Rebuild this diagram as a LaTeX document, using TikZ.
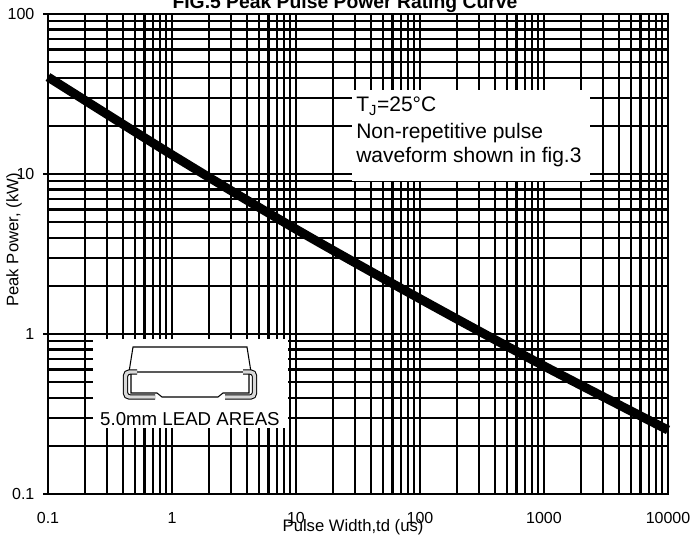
\documentclass[tikz,border=0pt]{standalone}
\usepackage{fontspec}
\setmainfont{Liberation Sans}
\usetikzlibrary{calc}

\tikzset{
  gridline/.style={line width=1.6pt},
  framebox/.style={line width=2pt},
  ticklabel/.style={inner sep=0pt, font=\fontsize{12}{14}\selectfont},
  axislabel/.style={inner sep=0pt, font=\fontsize{12.5}{15}\selectfont},
  notetext/.style={inner sep=0pt, anchor=base west, font=\fontsize{15.75}{19}\selectfont},
  leadlabel/.style={inner sep=0pt, anchor=base, font=\fontsize{14}{16}\selectfont},
  powercurve/.style={line width=6.75pt},
  pkgline/.style={line width=0.8pt},
  leadstrip/.style={line width=0.8pt, double=black!15, double distance=2.5pt, rounded corners=3pt}
}

\begin{document}
\begin{tikzpicture}[x=93pt, y=120pt]
  \useasboundingbox (-0.387,-0.275) rectangle (5.1855,3.0875);

  % log grid: 1..9 in every decade
  \foreach \d in {0,...,4}
    {
      \foreach \m in {1,...,9}
        {
          \draw [gridline] ({\d+log10(\m)},0) -- ({\d+log10(\m)},3);
        }
    }
  \foreach \d in {0,1,2}
    {
      \foreach \m in {1,...,9}
        {
          \draw [gridline] (0,{\d+log10(\m)}) -- (5,{\d+log10(\m)});
        }
    }
  \draw [framebox] (0,0) rectangle (5,3);

  % ticks and numbers
  \foreach \d/\v in {0/0.1, 1/1, 2/10, 3/100}
    {
      \draw [gridline] (0,\d) -- ($(0,\d) + (-4pt,0)$);
      \node [ticklabel, anchor=east] (y\d) at ($(0,\d) + (-10pt,0)$) {\v};
    }
  \foreach \d/\v in {0/0.1, 1/1, 2/10, 3/100, 4/1000, 5/10000}
    {
      \node [ticklabel] (x\d) at ($(\d,0) + (0,-18pt)$) {\v};
    }

  % rating curve
  \draw [powercurve] plot [smooth] coordinates {(0,2.606) (1,2.12) (2,1.655) (3,1.22) (4,0.8) (5,0.4)};

  % note box
  \fill [white] (2.452,1.956) rectangle (4.371,2.525);
  \node [notetext] (note1) at (2.484,2.3875) {T\textsubscript{J}=25°C};
  \node [notetext] (note2) at (2.484,2.219) {Non-repetitive pulse};
  \node [notetext] (note3) at (2.484,2.069) {waveform shown in fig.3};

  % package box
  \fill [white] (0.363,0.4125) rectangle (1.935,0.969);
  \begin{scope}[shift={(-0.387,3.0875)}, x=0.75pt, y=-0.75pt]
    \draw [pkgline] (129,372) -- (133,347) -- (247,347) -- (251,372) -- cycle;
    \draw [pkgline] (131,372) -- (131,393) -- (157,393) -- (162,397) -- (218,397) -- (223,393) -- (249,393) -- (249,372);
    \draw [leadstrip] (137,372) -- (125.5,372) -- (125.5,397) -- (155,397);
    \draw [leadstrip] (243,372) -- (254.5,372) -- (254.5,397) -- (225,397);
  \end{scope}
  \node [leadlabel] (leadtxt) at (1.145,0.431) {5.0mm LEAD AREAS};

  % titles
  \node [axislabel] (xlab) at (2.46,-0.21) {Pulse Width,td (us)};
  \node [axislabel, rotate=90] (ylab) at (-0.274,1.5875) {Peak Power, (kW)};
  \node [inner sep=0pt, anchor=base, font=\bfseries\fontsize{14.5}{17}\selectfont] (title) at (2.395,3.035) {FIG.5 Peak Pulse Power Rating Curve};
\end{tikzpicture}
\end{document}
